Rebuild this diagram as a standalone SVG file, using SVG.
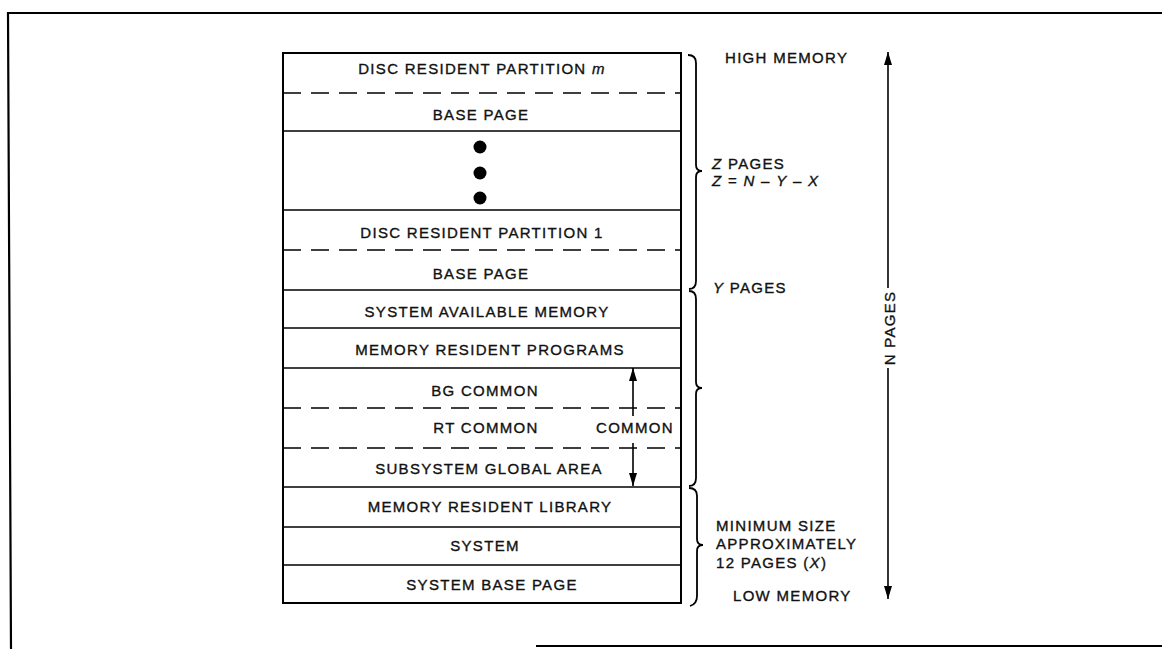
<svg xmlns="http://www.w3.org/2000/svg" width="1162" height="649" viewBox="0 0 1162 649">
<style>
.t{font-family:"Liberation Sans",Arial,sans-serif;font-size:15px;fill:#111;stroke:#111;stroke-width:0.35;letter-spacing:1.3px}
.c{text-anchor:middle}
.i{font-style:italic}
.ln{stroke:#000;stroke-width:1.6;fill:none}
.ds{stroke:#000;stroke-width:1.6;fill:none;stroke-dasharray:18 10}
.br{stroke:#000;stroke-width:1.8;fill:none}
.fr{stroke:#000;stroke-width:2.2;fill:none}
</style>
<defs>
<marker id="ah" markerUnits="userSpaceOnUse" markerWidth="14" markerHeight="10" refX="13" refY="4" orient="auto">
<path d="M0,0 L13,4 L0,8 z" fill="#000"/>
</marker>
</defs>
<g id="frame">
<path class="fr" d="M1162,13 L8,13 L11,649"/>
<path class="fr" d="M536,646 L1162,646"/>
</g>
<g id="memory-map">
<rect x="283" y="53" width="398" height="550" fill="#fff" stroke="#000" stroke-width="2"/>
<line class="ds" x1="283" y1="93" x2="681" y2="93"/>
<line class="ln" x1="283" y1="131" x2="681" y2="131"/>
<line class="ln" x1="283" y1="210" x2="681" y2="210"/>
<line class="ds" x1="283" y1="250" x2="681" y2="250"/>
<line class="ln" x1="283" y1="290" x2="681" y2="290"/>
<line class="ln" x1="283" y1="328" x2="681" y2="328"/>
<line class="ln" x1="283" y1="368" x2="681" y2="368"/>
<line class="ds" x1="283" y1="408" x2="681" y2="408"/>
<line class="ds" x1="283" y1="448" x2="681" y2="448"/>
<line class="ln" x1="283" y1="487" x2="681" y2="487"/>
<line class="ln" x1="283" y1="527" x2="681" y2="527"/>
<line class="ln" x1="283" y1="565" x2="681" y2="565"/>
</g>
<g id="n-disc-m"><text class="t c" x="482" y="73.5">DISC RESIDENT PARTITION <tspan class="i">m</tspan></text></g>
<g id="n-base-m"><text class="t c" x="481" y="119.5">BASE PAGE</text></g>
<g id="n-dots">
<circle cx="480" cy="147" r="6.5" fill="#000"/>
<circle cx="480" cy="173" r="6.5" fill="#000"/>
<circle cx="480" cy="198" r="6.5" fill="#000"/>
</g>
<g id="n-disc-1"><text class="t c" x="482" y="238">DISC RESIDENT PARTITION 1</text></g>
<g id="n-base-1"><text class="t c" x="481" y="279">BASE PAGE</text></g>
<g id="n-sam"><text class="t c" x="487" y="317">SYSTEM AVAILABLE MEMORY</text></g>
<g id="n-mrp"><text class="t c" x="490" y="355">MEMORY RESIDENT PROGRAMS</text></g>
<g id="n-bg"><text class="t c" x="485" y="396">BG COMMON</text></g>
<g id="n-rt"><text class="t c" x="486" y="433">RT COMMON</text></g>
<g id="n-sga"><text class="t c" x="489" y="474">SUBSYSTEM GLOBAL AREA</text></g>
<g id="n-mrl"><text class="t c" x="490" y="512">MEMORY RESIDENT LIBRARY</text></g>
<g id="n-sys"><text class="t c" x="485" y="551">SYSTEM</text></g>
<g id="n-sbp"><text class="t c" x="492" y="590">SYSTEM BASE PAGE</text></g>
<g id="n-common"><text class="t" x="596" y="433">COMMON</text></g>
<g id="labels">
<text class="t" x="725" y="63">HIGH MEMORY</text>
<text class="t" x="712" y="169"><tspan class="i">Z</tspan> PAGES</text>
<text class="t" x="712" y="186"><tspan class="i">Z</tspan> = <tspan class="i">N</tspan> – <tspan class="i">Y</tspan> – <tspan class="i">X</tspan></text>
<text class="t" x="713" y="293"><tspan class="i">Y</tspan> PAGES</text>
<text class="t" x="716" y="531">MINIMUM SIZE</text>
<text class="t" x="716" y="549">APPROXIMATELY</text>
<text class="t" x="716" y="568">12 PAGES (<tspan class="i">X</tspan>)</text>
<text class="t" x="733" y="601">LOW MEMORY</text>
<text class="t c" x="895" y="328" transform="rotate(-90 895 328)">N PAGES</text>
</g>
<g id="connectors">
<path class="br" d="M688,55 Q696,55 696,63 L696,165 Q696,171 702,171 Q696,171 696,177 L696,281 Q696,289 689,289"/>
<path class="br" d="M689,291 Q696,291 696,299 L696,382 Q696,388 702,388 Q696,388 696,394 L696,478 Q696,486 689,486"/>
<path class="br" d="M689,488 Q697,488 697,496 L697,539 Q697,545 703,545 Q697,545 697,551 L697,596 Q697,604 690,606"/>
<line class="ln" x1="633" y1="416" x2="633" y2="368" marker-end="url(#ah)"/>
<line class="ln" x1="633" y1="443" x2="633" y2="486" marker-end="url(#ah)"/>
<line class="ln" x1="888" y1="288" x2="888" y2="52" marker-end="url(#ah)"/>
<line class="ln" x1="888" y1="368" x2="888" y2="599" marker-end="url(#ah)"/>
</g>
</svg>
